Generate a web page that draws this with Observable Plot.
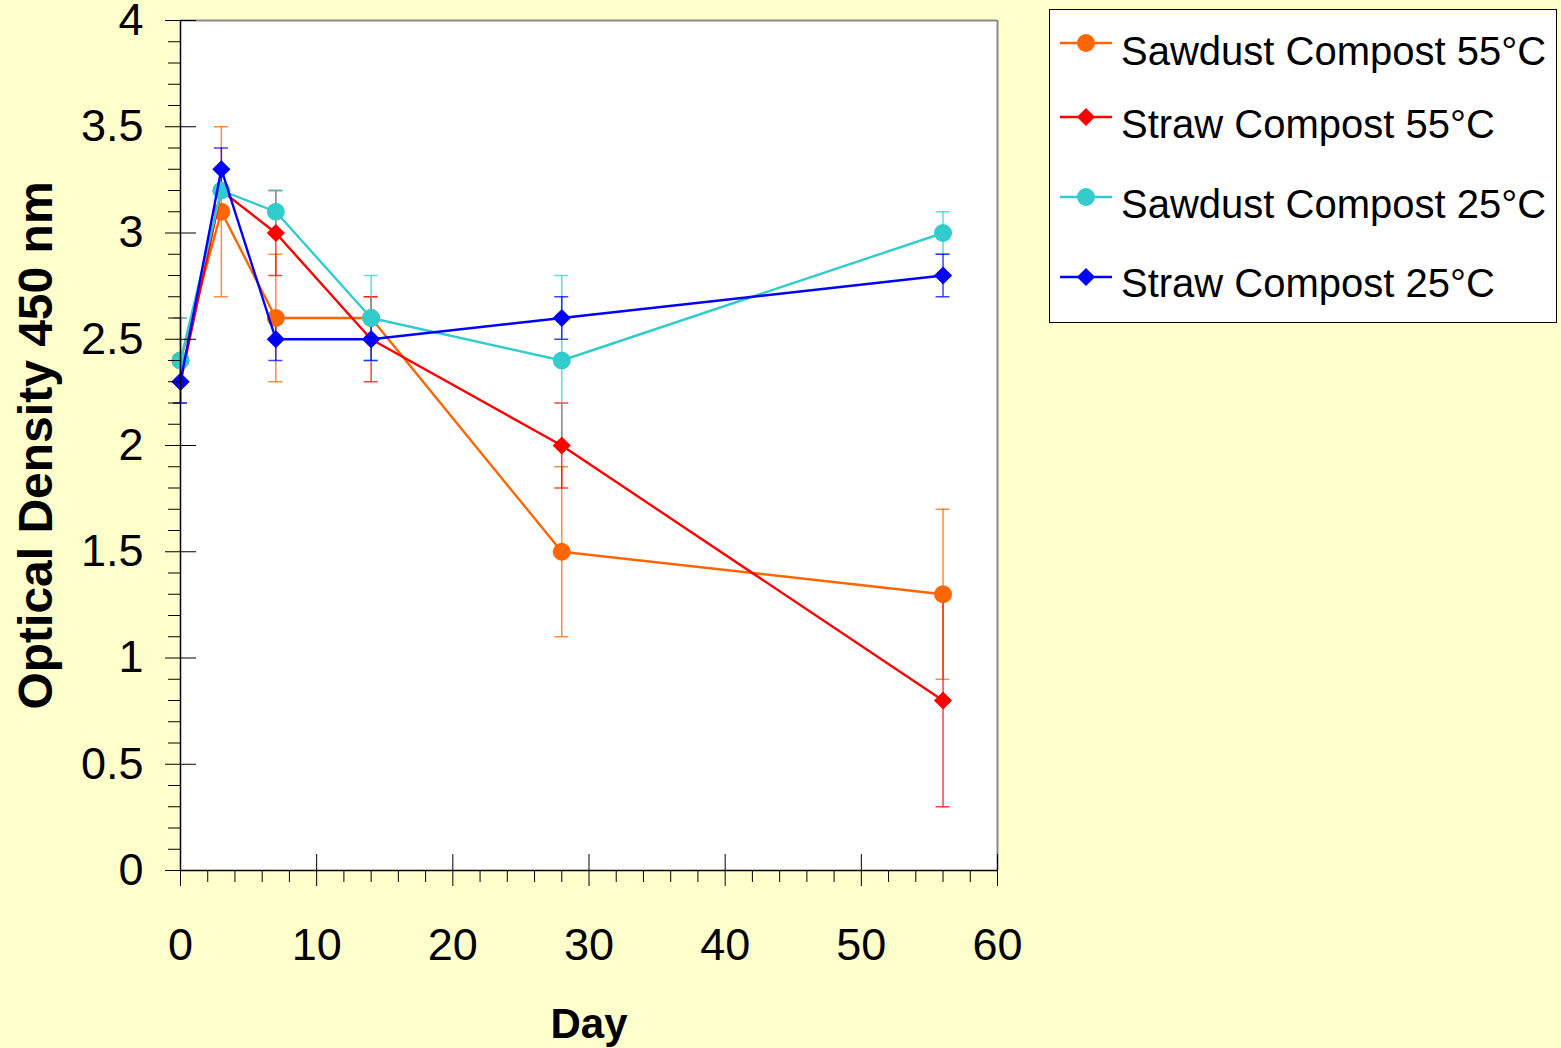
<!DOCTYPE html>
<html><head><meta charset="utf-8">
<script src="https://cdn.jsdelivr.net/npm/d3@7"></script>
<script src="https://cdn.jsdelivr.net/npm/@observablehq/plot@0.6"></script>
<style>
body{margin:0;background:#FFFFCC;font-family:"Liberation Sans",Arial,sans-serif;}
#wrap{position:relative;width:1561px;height:1048px;overflow:hidden;}
#legend{position:absolute;left:1049px;top:9px;}
</style></head><body><div id="wrap"></div>
<script>
// ---- data ----
const days = [0, 3, 7, 14, 28, 56];
const seriesNames = ["Sawdust Compost 55°C", "Straw Compost 55°C", "Sawdust Compost 25°C", "Straw Compost 25°C"];
const sawdust55 = [2.4, 3.1, 2.6, 2.6, 1.5, 1.3];
const sawdust55Err = [0.2, 0.4, 0.3, 0.1, 0.4, 0.4];
const straw55 = [2.3, 3.2, 3.0, 2.5, 2.0, 0.8];
const straw55Err = [0, 0, 0.2, 0.2, 0.2, 0.5];
const sawdust25 = [2.4, 3.2, 3.1, 2.6, 2.4, 3.0];
const sawdust25Err = [0.2, 0, 0.1, 0.2, 0.4, 0.1];
const straw25 = [2.3, 3.3, 2.5, 2.5, 2.6, 2.8];
const straw25Err = [0.1, 0.1, 0.1, 0.1, 0.1, 0.1];
const xTicks = [0, 10, 20, 30, 40, 50, 60];
const xTickLabels = ["0", "10", "20", "30", "40", "50", "60"];
const yTicks = [0, 0.5, 1, 1.5, 2, 2.5, 3, 3.5, 4];
const yTickLabels = ["0", "0.5", "1", "1.5", "2", "2.5", "3", "3.5", "4"];
const xMinor = [2,4,6,8,12,14,16,18,22,24,26,28,32,34,36,38,42,44,46,48,52,54,56,58];
const yMinor = [0.1,0.2,0.3,0.4,0.6,0.7,0.8,0.9,1.1,1.2,1.3,1.4,1.6,1.7,1.8,1.9,2.1,2.2,2.3,2.4,2.6,2.7,2.8,2.9,3.1,3.2,3.3,3.4,3.6,3.7,3.8,3.9];

// ---- styles ----
const colors = ["#FF6600", "#FF0000", "#33CCCC", "#0000FF"];
const symbols = ["circle", "diamond2", "circle", "diamond2"];
const radii = [9, 8.2, 9, 8.2];

const valueSets = [sawdust55, straw55, sawdust25, straw25];
const errSets = [sawdust55Err, straw55Err, sawdust25Err, straw25Err];
const series = seriesNames.map((name, s) => ({
  name, color: colors[s], symbol: symbols[s], r: radii[s],
  rows: days.map((day, i) => ({day, value: valueSets[s][i], err: errSets[s][i]}))
}));

const W = 1561, H = 1048;
const mL = 180, mR = 564, mT = 20, mB = 178;
const plotW = W - mL - mR, plotH = H - mT - mB;

const marks = [
  Plot.frame({fill: "white"}),
  Plot.ruleY([4], {stroke: "#8a8a8a", strokeWidth: 2}),
  Plot.ruleX([60], {stroke: "#8a8a8a", strokeWidth: 2})
];
// error bars (drawn first)
for (const s of series) {
  const e = s.rows.filter(d => d.err > 0);
  marks.push(Plot.ruleX(e, {x: "day", y1: d => d.value - d.err, y2: d => d.value + d.err, stroke: s.color, strokeOpacity: 0.75, strokeWidth: 1.5}));
  marks.push(Plot.ruleY(e, {y: d => d.value + d.err, x1: "day", x2: "day", insetLeft: -7, insetRight: -7, stroke: s.color, strokeOpacity: 0.75, strokeWidth: 1.5}));
  marks.push(Plot.ruleY(e, {y: d => d.value - d.err, x1: "day", x2: "day", insetLeft: -7, insetRight: -7, stroke: s.color, strokeOpacity: 0.75, strokeWidth: 1.5}));
}
for (const s of series) {
  marks.push(Plot.line(s.rows, {x: "day", y: "value", stroke: s.color, strokeWidth: 2.4}));
  marks.push(Plot.dot(s.rows, {x: "day", y: "value", fill: s.color, symbol: s.symbol, r: s.r, stroke: "none"}));
}
// axes
marks.push(
  Plot.ruleX([0], {stroke: "black", strokeWidth: 1.5}),
  Plot.ruleY([0], {stroke: "black", strokeWidth: 1.5}),
  Plot.axisY(yTicks, {tickSize: 15, tickPadding: 22, fontSize: 45, tickFormat: (d, i) => yTickLabels[i], label: null, stroke: "black"}),
  Plot.axisY(yMinor, {tickSize: 12, tickFormat: () => "", label: null, stroke: "black"}),
  Plot.tickY(yTicks, {y: d => d, insetRight: plotW - 16, stroke: "black"}),
  Plot.axisX(xTicks, {tickSize: 16, tickPadding: 42, fontSize: 45, tickFormat: (d, i) => xTickLabels[i], label: null, stroke: "black"}),
  Plot.axisX(xMinor, {tickSize: 12, tickFormat: () => "", label: null, stroke: "black"}),
  Plot.tickX(xTicks, {x: d => d, insetTop: plotH - 16, stroke: "black"}),
  Plot.axisY([], {label: "Optical Density 450 nm", labelAnchor: "center", labelArrow: "none", labelOffset: 163, fontSize: 48, fontWeight: "bold", tickSize: 0}),
  Plot.axisX([], {label: "Day", labelAnchor: "center", labelArrow: "none", labelOffset: 167, fontSize: 42, fontWeight: "bold", tickSize: 0})
);

const chart = Plot.plot({
  width: W, height: H,
  marginLeft: mL, marginRight: mR, marginTop: mT, marginBottom: mB,
  x: {domain: [0, 60]},
  y: {domain: [0, 4]},
  style: {fontFamily: "'Liberation Sans', Arial, sans-serif", background: "transparent", color: "black", overflow: "visible"},
  marks
});
document.getElementById("wrap").appendChild(chart);

// legend
const lg = d3.select("#wrap").append("svg").attr("id", "legend").attr("width", 509).attr("height", 315);
lg.append("rect").attr("x", 0.5).attr("y", 0.5).attr("width", 507).attr("height", 313).attr("fill", "white").attr("stroke", "black");
const lineY = [34, 108, 188, 268];
const textY = [56, 129, 209, 288];
series.forEach((s, i) => {
  lg.append("line").attr("x1", 11).attr("x2", 63).attr("y1", lineY[i]).attr("y2", lineY[i]).attr("stroke", s.color).attr("stroke-width", 2.4);
  const sym = s.symbol === "circle" ? d3.symbolCircle : d3.symbolDiamond2;
  lg.append("path").attr("d", d3.symbol(sym, Math.PI * s.r * s.r)()).attr("transform", `translate(37,${lineY[i]})`).attr("fill", s.color);
  lg.append("text").attr("x", 72).attr("y", textY[i]).attr("font-size", 40).attr("font-family", "'Liberation Sans', Arial, sans-serif").attr("fill", "black").text(s.name);
});
</script></body></html>
